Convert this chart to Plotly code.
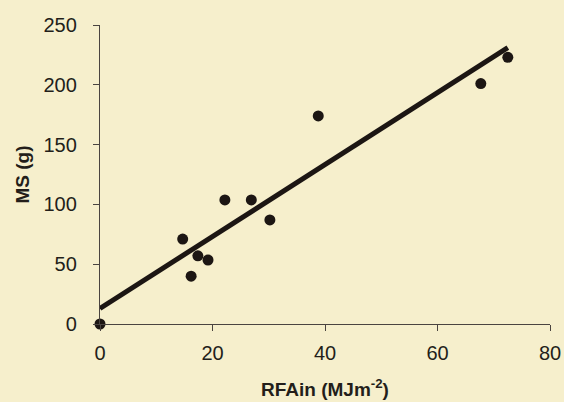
import plotly.graph_objects as go

# Observed data (RFAin in MJ m-2, MS in g)
rfain = [0, 14.7, 16.2, 17.4, 19.2, 22.2, 26.9, 30.2, 38.8, 67.7, 72.5]
ms = [0, 71, 40, 57, 53.5, 103.7, 103.7, 87, 174, 201, 223]

# Fitted regression line endpoints
fit_x = [0, 72.5]
fit_y = [13, 231]

x_ticks = [0, 20, 40, 60, 80]
y_ticks = [0, 50, 100, 150, 200, 250]

x_title = "<b>RFAin (MJm<sup>-2</sup>)</b>"
y_title = "<b>MS (g)</b>"

bg = "#f6efcc"
ink = "#231e1a"
axis_col = "#4a4440"
font = "Liberation Sans, Arial, sans-serif"
fs = 20

fig = go.Figure()
fig.add_trace(go.Scatter(
    x=fit_x, y=fit_y, mode="lines",
    line=dict(color="#1c1613", width=5),
    showlegend=False, hoverinfo="skip", cliponaxis=False,
))
fig.add_trace(go.Scatter(
    x=rfain, y=ms, mode="markers",
    marker=dict(color="#1c1613", size=11),
    showlegend=False, cliponaxis=False,
))

fig.update_layout(
    width=564, height=402,
    paper_bgcolor=bg, plot_bgcolor=bg,
    margin=dict(l=100, r=14, t=25, b=78),
    font=dict(family=font, color=ink, size=fs),
    xaxis=dict(
        range=[0, 80], tickvals=x_ticks, showgrid=False, zeroline=False,
        showline=True, linecolor=axis_col, linewidth=1.3,
        ticks="outside", ticklen=6, tickcolor=axis_col, tickwidth=1.3,
        tickfont=dict(size=fs, family=font, color=ink),
        ticklabelstandoff=5, automargin=False,
    ),
    yaxis=dict(
        range=[0, 250], tickvals=y_ticks, showgrid=False, zeroline=False,
        showline=True, linecolor=axis_col, linewidth=1.3,
        ticks="outside", ticklen=6, tickcolor=axis_col, tickwidth=1.3,
        tickfont=dict(size=fs, family=font, color=ink),
        ticklabelstandoff=12, automargin=False,
    ),
    annotations=[
        dict(text=x_title, xref="paper", yref="paper", x=0.5, y=0,
             yshift=-64, showarrow=False, xanchor="center", yanchor="middle",
             font=dict(size=19, family=font, color=ink)),
        dict(text=y_title, xref="paper", yref="paper", x=0, y=0.5,
             xshift=-78, showarrow=False, xanchor="center", yanchor="middle",
             textangle=-90, font=dict(size=19, family=font, color=ink)),
    ],
)

fig.write_html(
    "out.html",
    config={"displayModeBar": False},
    post_script="document.body.style.margin='0';document.body.style.overflow='hidden';",
)
